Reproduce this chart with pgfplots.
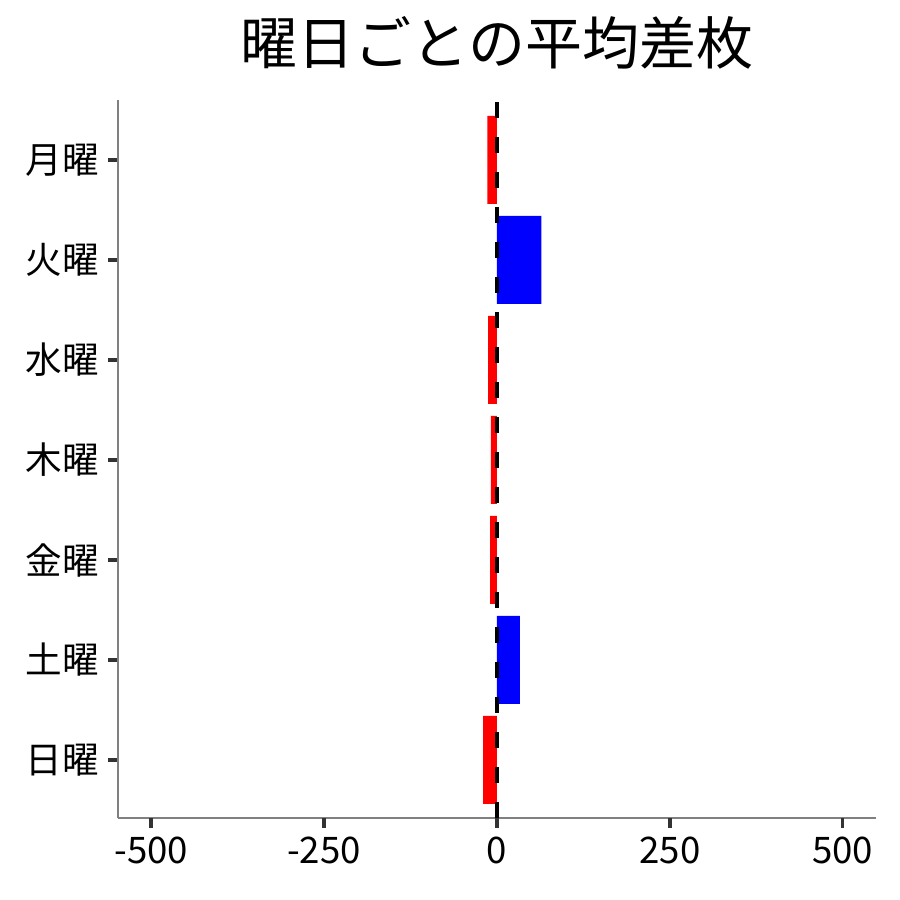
\documentclass[border=0pt]{standalone}
\usepackage{pgfplots}
\pgfplotsset{compat=1.18}
\usepackage{fontspec}
\setmainfont{Noto Sans CJK JP}
\begin{document}
\begin{tikzpicture}
\useasboundingbox (-59pt,-41pt) rectangle (391pt,409pt);
\begin{axis}[
  at={(0,0)}, anchor=south west,
  scale only axis,
  width=379pt, height=359pt,
  xmin=-548, xmax=548,
  ymin=-0.58, ymax=6.6,
  axis x line*=bottom, axis y line*=left,
  axis line style={gray, line width=0.75pt, -},
  xtick={-500,-250,0,250,500},
  xticklabels={-500,-250,0,250,500},
  ytick={0,1,2,3,4,5,6},
  yticklabels={日曜,土曜,金曜,木曜,水曜,火曜,月曜},
  tick align=outside,
  major tick length=5pt,
  every major tick/.append style={draw=black!80, line width=1.7pt},
  ticklabel style={font=\fontsize{18.3pt}{20pt}\selectfont},
  yticklabel style={xshift=-1pt},
  xticklabel style={yshift=-1pt},
  title={曜日ごとの平均差枚},
  title style={font=\fontsize{28.5pt}{30pt}\selectfont, at={(0.5,1)}, anchor=center, yshift=22.5pt},
  clip=false,
]
\addplot[xbar, bar width=0.88, bar shift=0pt, draw=none, fill={rgb,255:red,255;green,0;blue,0}] coordinates {
  (-14,6) (-13,4) (-9,3) (-10,2) (-20,0)
};
\addplot[xbar, bar width=0.88, bar shift=0pt, draw=none, fill={rgb,255:red,0;green,0;blue,255}] coordinates {
  (64,5) (33,1)
};
\addplot[black, line width=2pt, dash pattern=on 8pt off 9.5pt] coordinates {(0,-0.58) (0,6.6)};
\pgfplotsinvokeforeach{-500,-250,0,250,500}{
  \draw[black!80, line width=1.7pt] (axis cs:#1,-0.58) -- (axis cs:#1,-0.685);
}
\end{axis}
\end{tikzpicture}
\end{document}
